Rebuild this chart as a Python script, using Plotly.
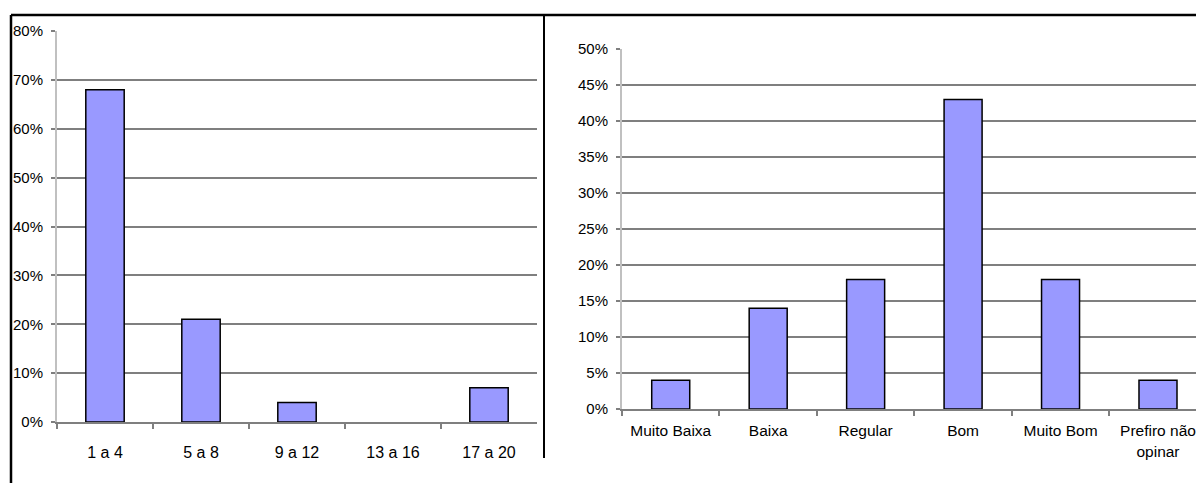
import plotly.graph_objects as go

# ---- data ----
left_categories = ["1 a 4", "5 a 8", "9 a 12", "13 a 16", "17 a 20"]
left_values = [0.68, 0.21, 0.04, 0.0, 0.07]
left_ticks = [0, 0.1, 0.2, 0.3, 0.4, 0.5, 0.6, 0.7, 0.8]
left_ticklabels = ["0%", "10%", "20%", "30%", "40%", "50%", "60%", "70%", "80%"]

right_categories = ["Muito Baixa", "Baixa", "Regular", "Bom", "Muito Bom", "Prefiro não opinar"]
right_category_labels = ["Muito Baixa", "Baixa", "Regular", "Bom", "Muito Bom", "Prefiro não<br>opinar"]
right_values = [0.04, 0.14, 0.18, 0.43, 0.18, 0.04]
right_ticks = [0, 0.05, 0.10, 0.15, 0.20, 0.25, 0.30, 0.35, 0.40, 0.45, 0.50]
right_ticklabels = ["0%", "5%", "10%", "15%", "20%", "25%", "30%", "35%", "40%", "45%", "50%"]

W, H = 1196, 483
XFONT = dict(family="Liberation Sans, Arial", size=16, color="#000000")
XFONT2 = dict(family="Liberation Sans, Arial", size=15.5, color="#000000")
YFONT = dict(family="Liberation Sans, Arial", size=15, color="#000000")
BAR_COLOR = "#9999FF"
GRID = "#7f7f7f"

def px(x):
    return x / W

def py(y):
    return (H - y) / H

fig = go.Figure()
fig.add_trace(go.Bar(x=left_categories, y=left_values, width=0.4,
                     marker=dict(color=BAR_COLOR,
                                 line=dict(color="#000000",
                                           width=[1.5 if v > 0 else 0 for v in left_values])),
                     xaxis="x", yaxis="y", showlegend=False))
fig.add_trace(go.Bar(x=right_categories, y=right_values, width=0.39,
                     marker=dict(color=BAR_COLOR, line=dict(color="#000000", width=1.5)),
                     xaxis="x2", yaxis="y2", showlegend=False))

axis_common_x = dict(type="category", showline=True, linecolor=GRID, linewidth=1.5,
                     ticks="outside", ticklen=5, tickcolor=GRID, tickwidth=1.5,
                     tickson="boundaries", showgrid=False, zeroline=False, tickangle=0,
                     fixedrange=True, automargin=False)
axis_common_y = dict(showline=True, linecolor="#c0c0c0", linewidth=2,
                     ticks="outside", ticklen=4, tickcolor=GRID, tickwidth=1.5,
                     showgrid=True, gridcolor=GRID, gridwidth=1.5, zeroline=False,
                     tickfont=YFONT, fixedrange=True, automargin=False)

fig.update_layout(
    width=W, height=H, autosize=False,
    margin=dict(l=0, r=0, t=0, b=0, pad=0),
    paper_bgcolor="white", plot_bgcolor="white",
    xaxis=dict(axis_common_x, domain=[px(57), px(537)], range=[-0.5, 4.5],
               tickfont=XFONT, anchor="y", ticklabelstandoff=15),
    yaxis=dict(axis_common_y, domain=[py(422), py(31)], range=[0, 0.8],
               tickvals=left_ticks, ticktext=left_ticklabels, anchor="x", ticklabelstandoff=5),
    xaxis2=dict(axis_common_x, domain=[px(622), 1.0], range=[-0.5, 5.39],
                tickvals=right_categories, ticktext=right_category_labels,
                tickfont=XFONT2, anchor="y2", ticklabelstandoff=7),
    yaxis2=dict(axis_common_y, domain=[py(409), py(49)], range=[0, 0.5],
                tickvals=right_ticks, ticktext=right_ticklabels, anchor="x2", ticklabelstandoff=5),
    shapes=[
        dict(type="line", xref="paper", yref="paper", x0=px(11), x1=1.0, y0=py(15), y1=py(15),
             line=dict(color="#000000", width=2.5)),
        dict(type="line", xref="paper", yref="paper", x0=px(11), x1=px(11), y0=py(15), y1=0,
             line=dict(color="#000000", width=2.5)),
        dict(type="line", xref="paper", yref="paper", x0=px(544), x1=px(544), y0=py(15), y1=py(458),
             line=dict(color="#000000", width=2)),
    ],
)

fig.write_html(
    "out.html",
    config={"responsive": False, "displayModeBar": False},
    post_script="document.body.style.margin='0';document.body.style.padding='0';"
                "document.body.style.overflow='hidden';",
)
